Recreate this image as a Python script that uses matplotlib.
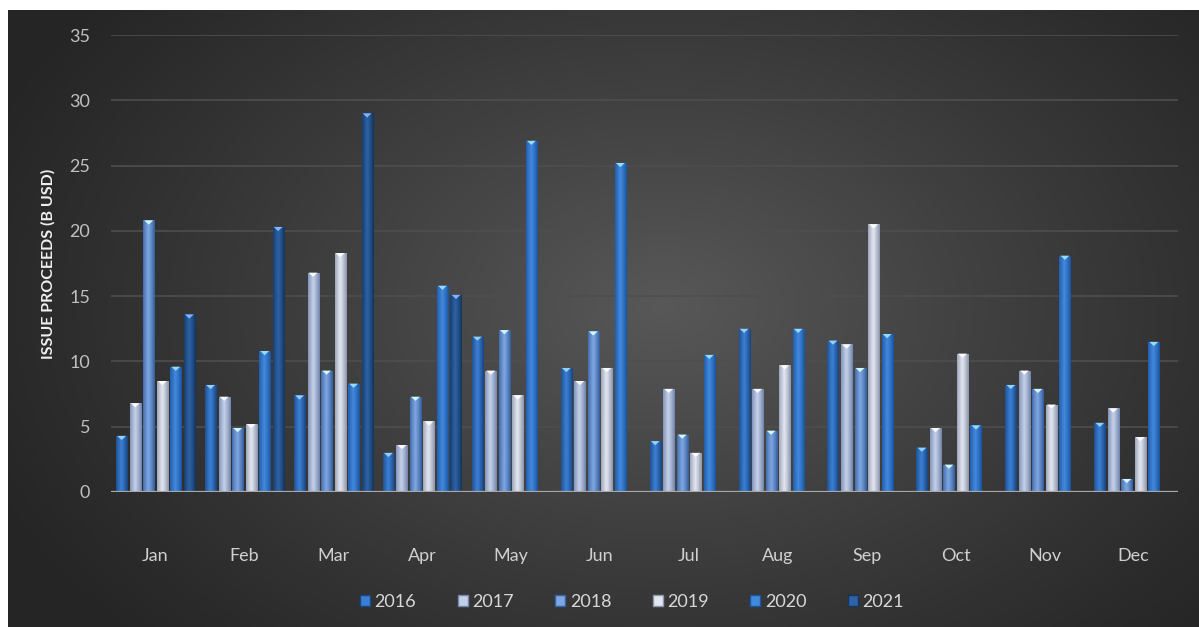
import numpy as np
import matplotlib
matplotlib.use("Agg")
import matplotlib.pyplot as plt
from matplotlib.patches import Polygon, Rectangle
from matplotlib.colors import LinearSegmentedColormap, to_rgb

# ---- data -------------------------------------------------------------
months = ["Jan", "Feb", "Mar", "Apr", "May", "Jun",
          "Jul", "Aug", "Sep", "Oct", "Nov", "Dec"]
years = ["2016", "2017", "2018", "2019", "2020", "2021"]

proceeds_2016 = [4.3, 8.2, 7.4, 3.0, 11.9, 9.5, 3.9, 12.5, 11.6, 3.4, 8.2, 5.3]
proceeds_2017 = [6.8, 7.3, 16.8, 3.6, 9.3, 8.5, 7.9, 7.9, 11.3, 4.9, 9.3, 6.4]
proceeds_2018 = [20.8, 4.9, 9.3, 7.3, 12.4, 12.3, 4.4, 4.7, 9.5, 2.1, 7.9, 1.0]
proceeds_2019 = [8.5, 5.2, 18.3, 5.4, 7.4, 9.5, 3.0, 9.7, 20.5, 10.6, 6.7, 4.2]
proceeds_2020 = [9.6, 10.8, 8.3, 15.8, 26.9, 25.2, 10.5, 12.5, 12.1, 5.1, 18.1, 11.5]
proceeds_2021 = [13.6, 20.3, 29.0, 15.1]  # Jan-Apr only

series = [proceeds_2016, proceeds_2017, proceeds_2018,
          proceeds_2019, proceeds_2020, proceeds_2021]

y_ticks = [0, 5, 10, 15, 20, 25, 30, 35]
y_label = "ISSUE PROCEEDS (B USD)"

# ---- styling ----------------------------------------------------------
# (edge colour, centre colour) for the horizontal bar shading
bar_colors = [
    ("#1b4682", "#3b7fd4"),
    ("#7587ae", "#c4d0e8"),
    ("#36609e", "#7ea6e2"),
    ("#8e97ad", "#e2e6f0"),
    ("#1b55a2", "#4288dc"),
    ("#15355f", "#2d62a6"),
]

W, H = 1199, 627
fig = plt.figure(figsize=(W / 100, H / 100), dpi=100, facecolor="white")

# dark radial backdrop
bg = fig.add_axes([8 / W, 0, 1 - 8 / W, 1 - 10 / H])
bg.set_axis_off()
gy, gx = np.mgrid[0:1:400j, 0:1:700j]
d = np.sqrt(((gx - 0.55) / 0.62) ** 2 + ((gy - 0.48) / 0.80) ** 2)
v = np.clip(1 - d, 0, 1) ** 1.1
lum = (0x25 + (0x58 - 0x25) * v) / 255.0
bg.imshow(np.dstack([lum, lum, lum]), aspect="auto", extent=[0, 1, 0, 1],
          interpolation="bilinear")
bg.set_xlim(0, 1)
bg.set_ylim(0, 1)

ax = fig.add_axes([111 / W, (H - 492) / H, (1178 - 111) / W, (492 - 35) / H])
ax.set_facecolor("none")

slot = 0.152
width = 0.124
n = len(years)

grad = np.linspace(0, 1, 64)
shade = 1 - np.abs(grad - 0.45) * 2
shade = np.clip(shade, 0, 1) ** 0.8
shade = shade.reshape(1, -1)

for i, (vals, (c_edge, c_mid)) in enumerate(zip(series, bar_colors)):
    xs = np.arange(len(vals)) + (i - (n - 1) / 2) * slot
    cmap = LinearSegmentedColormap.from_list(f"s{i}", [c_edge, c_mid])
    bars = ax.bar(xs, vals, width=width, color=c_mid, edgecolor="none",
                  zorder=3, label=years[i])
    light = tuple(min(1, c + 0.35) for c in to_rgb(c_mid))
    for b in bars:
        x0, y0 = b.get_x(), b.get_y()
        bw, bh = b.get_width(), b.get_height()
        im = ax.imshow(shade, cmap=cmap, aspect="auto",
                       extent=[x0, x0 + bw, y0, y0 + bh],
                       interpolation="bilinear", zorder=3.5)
        im.set_clip_path(b)
        b.set_alpha(0)
        depth = min(0.32, bh)
        tri = Polygon([[x0 + bw * 0.1, y0 + bh], [x0 + bw * 0.9, y0 + bh],
                       [x0 + bw * 0.5, y0 + bh - depth]],
                      closed=True, facecolor=light, edgecolor="none",
                      alpha=0.95, zorder=4)
        ax.add_patch(tri)

ax.set_aspect("auto")
ax.set_xlim(-0.5, len(months) - 0.5)
ax.set_ylim(0, 35)

font = "Lato"
ax.set_xticks(range(len(months)))
ax.set_xticklabels(months, fontsize=13, color="#d0d0d0", family=font)
ax.set_yticks(y_ticks)
ax.set_yticklabels([str(t) for t in y_ticks], fontsize=13,
                   color="#c0c0c0", family=font)
ax.tick_params(axis="x", length=0, pad=40)
ax.tick_params(axis="y", length=0, pad=15)
for s in ax.spines.values():
    s.set_visible(False)
ax.grid(axis="y", color="#4e4e4e", linewidth=1.2, zorder=0)
ax.set_axisbelow(True)
ax.axhline(0, color="#a8a8a8", linewidth=1.6, zorder=5)

ax.set_ylabel(y_label, fontsize=11.5, fontweight="bold", color="#f0f0f0",
              family=font)
ax.yaxis.set_label_coords(-0.052, 0.5)

handles = [Rectangle((0, 0), 1, 1, facecolor=c_mid, edgecolor=c_edge,
                     linewidth=1.0) for c_edge, c_mid in bar_colors]
leg = fig.legend(handles, years, loc="center", bbox_to_anchor=(632 / W, 1 - 602 / H),
                 ncol=len(years), frameon=False,
                 handlelength=0.55, handleheight=0.6, handletextpad=0.25,
                 columnspacing=2.3, prop={"family": font, "size": 13})
for t in leg.get_texts():
    t.set_color("#d8d8d8")

fig.savefig("out.png", dpi=100, facecolor=fig.get_facecolor())
